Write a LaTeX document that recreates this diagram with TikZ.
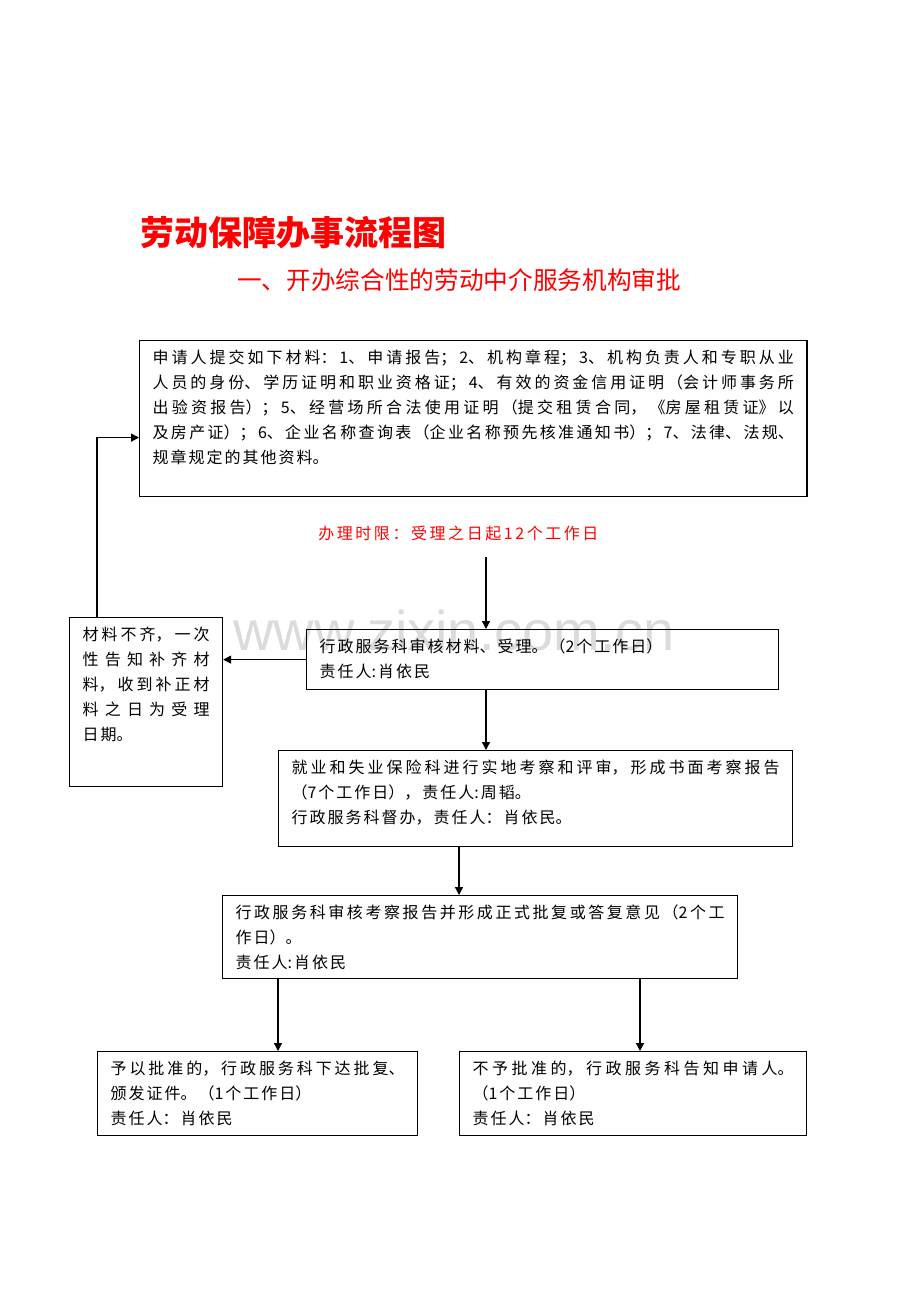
\documentclass[tikz,border=0pt]{standalone}
\usepackage{fontspec}
\setmainfont{Noto Sans CJK SC}
\newfontfamily\markfont{Liberation Sans}
\newfontfamily\spacedfont{Noto Sans CJK SC}[LetterSpace=16]
\usetikzlibrary{arrows.meta,calc}

\XeTeXlinebreaklocale "zh"
\XeTeXlinebreakskip=1.5pt plus 5pt minus 1pt

\tikzset{
  box/.style={draw, line width=0.9pt, anchor=north west, inner xsep=9.75pt, inner ysep=7pt},
  flow/.style={-{Triangle[length=6pt,width=6pt]}, line width=1pt},
  redtext/.style={text=red, inner sep=0pt}
}
\newcommand{\boxtext}[3]{\parbox[t][#2][t]{#1}{\fontsize{12pt}{18.75pt}\selectfont #3}}

\begin{document}
\begin{tikzpicture}[x=0.75pt, y=-0.75pt]

\useasboundingbox (0,0) rectangle (920,1302);

% watermark
\node[anchor=base west, inner sep=0pt, text=black!14, font=\markfont\fontsize{42}{44}\selectfont] (mark) at (233,650) {\XeTeXlinebreakskip=0pt\relax www.zixin.com.cn};

% headings
\node[redtext, anchor=west, font=\fontsize{25.5}{30}\selectfont\bfseries] (title) at (140,233) {劳动保障办事流程图};
\node[redtext, anchor=west, font=\fontsize{18.5}{22}\selectfont] (subtitle) at (237,280) {一、开办综合性的劳动中介服务机构审批};

% boxes
\node[box] (apply) at (139,340) {\boxtext{481pt}{103pt}{申请人提交如下材料：1、申请报告；2、机构章程；3、机构负责人和专职从业\linebreak
人员的身份、学历证明和职业资格证；4、有效的资金信用证明（会计师事务所\linebreak
出验资报告）；5、经营场所合法使用证明（提交租赁合同，《房屋租赁证》以\linebreak
及房产证）；6、企业名称查询表（企业名称预先核准通知书）；7、法律、法规、\linebreak
规章规定的其他资料。}};

\node[redtext, anchor=west, font=\spacedfont\fontsize{12}{14}\selectfont] (limit) at (318,533) {办理时限：受理之日起12个工作日};

\node[box] (accept) at (306,629) {\boxtext{334.5pt}{31pt}{行政服务科审核材料、受理。（2个工作日）\\
责任人:肖依民}};

\node[box] (missing) at (69,617) {\boxtext{95.25pt}{112.75pt}{材料不齐，一次\linebreak
性告知补齐材\linebreak
料，收到补正材\linebreak
料之日为受理\linebreak
日期。}};

\node[box] (survey) at (278,750) {\boxtext{366pt}{58pt}{就业和失业保险科进行实地考察和评审，形成书面考察报告\linebreak
（7个工作日），责任人:周韬。\\
行政服务科督办，责任人：肖依民。}};

\node[box] (review) at (222,895) {\boxtext{366.75pt}{48.25pt}{行政服务科审核考察报告并形成正式批复或答复意见（2个工\linebreak
作日）。\\
责任人:肖依民}};

\node[box] (grant) at (97,1051) {\boxtext{220.5pt}{49pt}{予以批准的，行政服务科下达批复、\linebreak
颁发证件。（1个工作日）\\
责任人：肖依民}};

\node[box] (deny) at (459,1051) {\boxtext{240.75pt}{49pt}{不予批准的，行政服务科告知申请人。\linebreak
（1个工作日）\\
责任人：肖依民}};

% connector points
\coordinate (start) at (486,557);
\coordinate (mid) at (459,870);
\coordinate (lft) at (278,1010);
\coordinate (rgt) at (640,1010);
\coordinate (back) at ($(missing.north west)+(28,0)$);
\coordinate (entry) at ($(apply.west)+(0,19)$);

% connectors
\draw[flow] (start) -- (start |- accept.north);
\draw[flow] (accept.west) -- (accept.west -| missing.east);
\draw[flow] (back) |- (entry);
\draw[flow] (start |- accept.south) -- (start |- survey.north);
\draw[flow] (mid |- survey.south) -- (mid |- review.north);
\draw[flow] (lft |- review.south) -- (lft |- grant.north);
\draw[flow] (rgt |- review.south) -- (rgt |- deny.north);

\end{tikzpicture}
\end{document}
